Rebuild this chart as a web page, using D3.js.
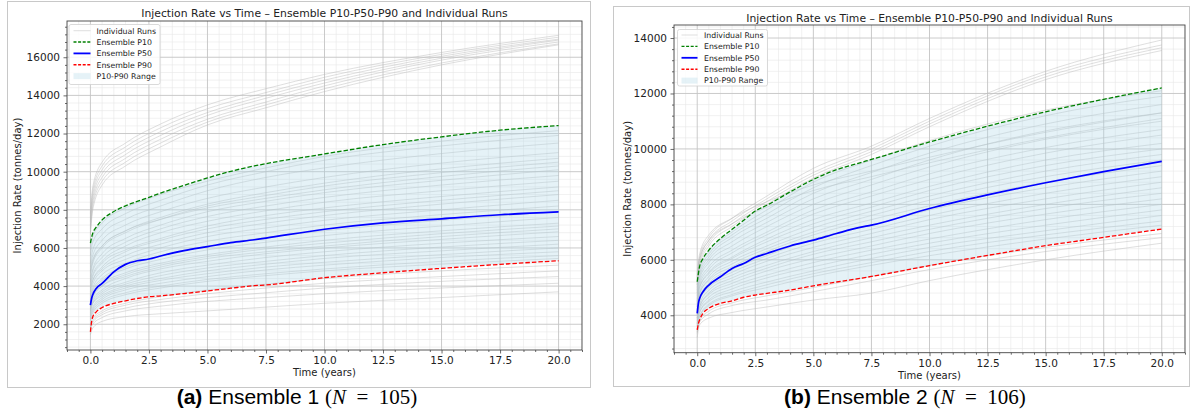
<!DOCTYPE html>
<html>
<head>
<meta charset="utf-8">
<script src="https://cdn.jsdelivr.net/npm/d3@7"></script>
<style>
  body { margin: 0; background: #fff; }
  svg { display: block; }
</style>
</head>
<body>
<script>
// Constants
const SVG_WIDTH = 1196;
const SVG_HEIGHT = 414;
const TITLE = "Injection Rate vs Time \u2013 Ensemble P10-P50-P90 and Individual Runs";

// Time samples (years)
const pctTimes = [0, 0.05, 0.1, 0.25, 0.5, 1, 1.5, 2, 2.5, 3, 4, 5, 6, 7, 7.5, 10, 12.5, 15, 17.5, 20];
const runTimes = [0, 0.1, 0.5, 1.5, 3, 5, 7.5, 10, 15, 20];

// Tick labels
const xTicks = [0, 2.5, 5, 7.5, 10, 12.5, 15, 17.5, 20];
const yTicksA = [2000, 4000, 6000, 8000, 10000, 12000, 14000, 16000];
const yTicksB = [4000, 6000, 8000, 10000, 12000, 14000];

// Ensemble 1 percentiles (tonnes/day)
const p10A = [6250, 6550, 6770, 7090, 7470, 7910, 8210, 8440, 8650, 8880, 9280, 9670, 10020, 10300, 10420, 10930, 11420, 11825, 12175, 12420];
const p50A = [3000, 3350, 3550, 3880, 4140, 4750, 5140, 5330, 5420, 5580, 5860, 6070, 6280, 6430, 6520, 6980, 7320, 7530, 7740, 7890];
const p90A = [1600, 2120, 2390, 2650, 2880, 3090, 3230, 3350, 3440, 3490, 3610, 3750, 3890, 4020, 4060, 4440, 4700, 4930, 5140, 5330];

// Ensemble 1 individual runs (sampled at runTimes)
const runsA = [
  [7800, 9200, 10500, 11500, 12500, 13500, 14350, 15100, 16250, 17150],
  [7600, 9000, 10300, 11300, 12300, 13300, 14150, 14950, 16150, 17050],
  [7400, 8800, 10100, 11100, 12100, 13100, 14000, 14800, 16050, 16950],
  [7200, 8600, 9900, 10900, 11900, 12950, 13850, 14650, 15950, 16900],
  [7000, 8400, 9700, 10700, 11700, 12750, 13650, 14500, 15850, 16800],
  [6800, 8200, 9500, 10500, 11500, 12600, 13500, 14350, 15700, 16700],
  [6700, 8000, 9300, 10300, 11300, 12450, 13350, 14200, 15600, 16650],
  [5900, 6600, 7300, 8100, 8800, 9500, 10200, 10800, 11600, 12150],
  [5600, 6300, 7000, 7800, 8500, 9300, 10000, 10600, 11350, 11900],
  [5200, 5900, 6700, 7500, 8200, 9000, 9700, 10200, 10950, 11500],
  [5000, 5600, 6400, 7200, 7900, 8600, 9200, 9700, 10450, 11000],
  [4700, 5300, 6100, 6900, 7600, 8300, 8900, 9400, 10150, 10700],
  [4500, 5200, 6000, 6800, 7500, 8200, 8750, 9250, 9950, 10500],
  [4800, 5400, 6100, 6900, 7500, 8100, 8600, 9050, 9750, 10300],
  [4300, 4900, 5700, 6500, 7200, 7900, 8450, 8900, 9550, 10100],
  [4200, 4800, 5500, 6300, 7000, 7650, 8200, 8650, 9300, 9800],
  [4000, 4600, 5300, 6100, 6800, 7400, 7950, 8400, 9000, 9500],
  [3900, 4500, 5200, 5900, 6500, 7150, 7700, 8100, 8700, 9200],
  [3700, 4300, 5000, 5800, 6400, 7000, 7500, 7900, 8500, 9000],
  [3800, 4300, 4900, 5600, 6200, 6800, 7300, 7700, 8300, 8800],
  [3500, 4100, 4800, 5400, 6000, 6600, 7050, 7450, 8000, 8500],
  [3400, 3900, 4600, 5200, 5800, 6350, 6800, 7200, 7750, 8200],
  [3300, 3800, 4400, 5000, 5600, 6100, 6550, 6900, 7450, 7900],
  [3200, 3700, 4300, 4900, 5400, 5900, 6300, 6650, 7150, 7600],
  [3000, 3500, 4100, 4700, 5200, 5650, 6050, 6400, 6900, 7300],
  [2900, 3400, 4000, 4600, 5100, 5550, 5950, 6250, 6750, 7150],
  [3100, 3500, 4000, 4500, 5000, 5450, 5800, 6100, 6600, 7000],
  [2800, 3300, 3800, 4400, 4900, 5300, 5700, 6000, 6450, 6850],
  [2700, 3200, 3700, 4200, 4700, 5100, 5500, 5800, 6250, 6600],
  [2600, 3100, 3600, 4100, 4550, 4950, 5300, 5600, 6050, 6400],
  [2700, 3100, 3500, 4000, 4400, 4800, 5150, 5450, 5850, 6200],
  [2500, 2900, 3400, 3900, 4300, 4650, 5000, 5250, 5650, 6000],
  [2400, 2800, 3300, 3800, 4150, 4500, 4850, 5100, 5500, 5800],
  [2300, 2700, 3200, 3650, 4000, 4350, 4650, 4900, 5300, 5600],
  [2200, 2600, 3100, 3550, 3900, 4250, 4550, 4800, 5150, 5450],
  [2000, 2300, 2700, 3100, 3450, 3800, 4100, 4400, 4800, 5100],
  [1900, 2200, 2600, 3000, 3300, 3600, 3900, 4150, 4500, 4800],
  [1800, 2100, 2500, 2850, 3150, 3400, 3650, 3900, 4250, 4500],
  [1700, 2000, 2350, 2700, 2950, 3200, 3400, 3600, 3900, 4150],
  [1450, 1800, 2150, 2400, 2550, 2700, 2900, 3100, 3400, 3700]
];

// Ensemble 2 percentiles (tonnes/day)
const p10B = [5210, 5500, 5750, 6050, 6350, 6770, 7100, 7430, 7760, 7970, 8450, 8900, 9250, 9500, 9620, 10250, 10820, 11340, 11790, 12200];
const p50B = [4070, 4430, 4600, 4850, 5090, 5390, 5690, 5870, 6090, 6230, 6500, 6710, 6950, 7170, 7250, 7850, 8340, 8780, 9180, 9550];
const p90B = [3470, 3700, 3830, 4070, 4250, 4430, 4520, 4650, 4730, 4790, 4910, 5060, 5200, 5330, 5400, 5790, 6160, 6510, 6810, 7110];

// Ensemble 2 individual runs (sampled at runTimes)
const runsB = [
  [5400, 6100, 6800, 7500, 8300, 9300, 10100, 11100, 12800, 13930],
  [5300, 6000, 6700, 7400, 8200, 9150, 10000, 11000, 12700, 13750],
  [5200, 5900, 6600, 7300, 8100, 9050, 9900, 10900, 12600, 13650],
  [5100, 5800, 6500, 7200, 8000, 8950, 9800, 10800, 12500, 13550],
  [5500, 6200, 6900, 7500, 8100, 8700, 9200, 9700, 10600, 11300],
  [5300, 6000, 6700, 7300, 7900, 8500, 9000, 9500, 10400, 11100],
  [5100, 5700, 6300, 7000, 7800, 8800, 9600, 10300, 11400, 12100],
  [5000, 5600, 6200, 6900, 7650, 8600, 9400, 10100, 11200, 11900],
  [4900, 5500, 6100, 6800, 7500, 8400, 9150, 9850, 10900, 11600],
  [4800, 5400, 6000, 6650, 7350, 8200, 8900, 9600, 10650, 11300],
  [4700, 5300, 5900, 6500, 7200, 8000, 8700, 9350, 10350, 11000],
  [4600, 5200, 5750, 6350, 7000, 7800, 8450, 9100, 10050, 10700],
  [4500, 5100, 5650, 6250, 6900, 7650, 8300, 8900, 9850, 10500],
  [4400, 5000, 5550, 6100, 6750, 7450, 8050, 8650, 9600, 10200],
  [4500, 5000, 5500, 6050, 6650, 7300, 7900, 8500, 9400, 10000],
  [4300, 4850, 5400, 5950, 6500, 7150, 7750, 8300, 9200, 9800],
  [4200, 4750, 5300, 5850, 6400, 7000, 7600, 8150, 9000, 9600],
  [4300, 4800, 5250, 5750, 6300, 6900, 7450, 7950, 8800, 9400],
  [4100, 4650, 5150, 5650, 6150, 6750, 7250, 7800, 8600, 9200],
  [4000, 4550, 5050, 5550, 6050, 6600, 7100, 7600, 8400, 9000],
  [4100, 4550, 5000, 5450, 5950, 6450, 6950, 7450, 8200, 8800],
  [3900, 4400, 4900, 5350, 5800, 6300, 6800, 7250, 8000, 8600],
  [3800, 4300, 4800, 5250, 5700, 6200, 6650, 7100, 7850, 8400],
  [3900, 4300, 4750, 5150, 5600, 6050, 6500, 6950, 7650, 8200],
  [3700, 4200, 4650, 5050, 5450, 5900, 6350, 6750, 7450, 8000],
  [3600, 4100, 4550, 4950, 5350, 5750, 6200, 6600, 7250, 7800],
  [3700, 4100, 4500, 4850, 5200, 5600, 6050, 6450, 7050, 7600],
  [3500, 3950, 4400, 4750, 5100, 5500, 5900, 6300, 6900, 7400],
  [3500, 3950, 4350, 4700, 5000, 5400, 5800, 6150, 6750, 7250],
  [3400, 3800, 4150, 4450, 4700, 5000, 5400, 5800, 6450, 6950],
  [3350, 3750, 4050, 4350, 4550, 4850, 5250, 5650, 6300, 6800],
  [3200, 3650, 3900, 4100, 4300, 4550, 4800, 5250, 6000, 6600]
];

// Create SVG container
const svg = d3.select("body")
  .append("svg")
  .attr("width", SVG_WIDTH)
  .attr("height", SVG_HEIGHT)
  .style("font-family", "DejaVu Sans, sans-serif");

svg.append("rect")
  .attr("width", SVG_WIDTH)
  .attr("height", SVG_HEIGHT)
  .attr("fill", "#fff");

const panels = [
  {
    id: "a", label: "(a)", name: " Ensemble 1 ", n: "105",
    box: { x: 7.5, y: 1.5, w: 583, h: 386 },
    plot: { left: 67, top: 21, right: 582, bottom: 350 },
    yDomain: [650, 17900], yTicks: yTicksA,
    p10: p10A, p50: p50A, p90: p90A, runs: runsA,
    titleY: 16.5, xLabelY: 376, yLabelX: 21,
    legend: { x: 69, y: 24.5, w: 91, h: 60, row0: 30.7, dy: 11.35, h0: 73.5, h1: 90.5, tx: 96.5 },
    captionX: 297, captionY: 404
  },
  {
    id: "b", label: "(b)", name: " Ensemble 2 ", n: "106",
    box: { x: 613.5, y: 6.5, w: 576, h: 380 },
    plot: { left: 674, top: 25, right: 1185, bottom: 352.7 },
    yDomain: [2650, 14470], yTicks: yTicksB,
    p10: p10B, p50: p50B, p90: p90B, runs: runsB,
    titleY: 21.5, xLabelY: 379, yLabelX: 631,
    legend: { x: 677.5, y: 29.5, w: 90, h: 56.5, row0: 35, dy: 11.4, h0: 681.5, h1: 697.5, tx: 704 },
    captionX: 905, captionY: 404
  }
];

panels.forEach(drawPanel);

function drawPanel(p) {
  // Outer frame of the subfigure
  svg.append("rect")
    .attr("x", p.box.x).attr("y", p.box.y)
    .attr("width", p.box.w).attr("height", p.box.h)
    .attr("fill", "none")
    .attr("stroke", "#c8c8c8")
    .attr("stroke-width", 1);

  const pl = p.plot;
  const x = d3.scaleLinear().domain([-1, 21]).range([pl.left, pl.right]);
  const y = d3.scaleLinear().domain(p.yDomain).range([pl.bottom, pl.top]);

  const g = svg.append("g");

  // clip
  svg.append("clipPath").attr("id", "clip-" + p.id)
    .append("rect")
    .attr("x", pl.left).attr("y", pl.top)
    .attr("width", pl.right - pl.left).attr("height", pl.bottom - pl.top);

  const xMinor = d3.range(-1, 21.001, 0.5).filter(v => !xTicks.includes(v));
  const yMinor = d3.range(Math.ceil(p.yDomain[0] / 400) * 400, p.yDomain[1], 400)
    .filter(v => v % 2000 !== 0);

  // Minor grid
  const grid = g.append("g").attr("clip-path", `url(#clip-${p.id})`);
  grid.selectAll(".vminor").data(xMinor).enter().append("line")
    .attr("x1", d => x(d)).attr("x2", d => x(d))
    .attr("y1", pl.top).attr("y2", pl.bottom)
    .attr("stroke", "#e8e8e8").attr("stroke-width", 0.6);
  grid.selectAll(".hminor").data(yMinor).enter().append("line")
    .attr("x1", pl.left).attr("x2", pl.right)
    .attr("y1", d => y(d)).attr("y2", d => y(d))
    .attr("stroke", "#e8e8e8").attr("stroke-width", 0.6);

  // Major grid
  grid.selectAll(".vmajor").data(xTicks).enter().append("line")
    .attr("x1", d => x(d)).attr("x2", d => x(d))
    .attr("y1", pl.top).attr("y2", pl.bottom)
    .attr("stroke", "#c4c4c4").attr("stroke-width", 0.9);
  grid.selectAll(".hmajor").data(p.yTicks).enter().append("line")
    .attr("x1", pl.left).attr("x2", pl.right)
    .attr("y1", d => y(d)).attr("y2", d => y(d))
    .attr("stroke", "#c4c4c4").attr("stroke-width", 0.9);

  const data = g.append("g").attr("clip-path", `url(#clip-${p.id})`);

  // Individual runs
  const runLine = d3.line()
    .x((d, i) => x(runTimes[i]))
    .y(d => y(d))
    .curve(d3.curveMonotoneX);

  data.selectAll(".run").data(p.runs).enter().append("path")
    .attr("d", runLine)
    .attr("fill", "none")
    .attr("stroke", "#b8b8b8")
    .attr("stroke-opacity", 0.45)
    .attr("stroke-width", 1);

  // P10-P90 band
  const band = d3.area()
    .x((d, i) => x(pctTimes[i]))
    .y0((d, i) => y(p.p90[i]))
    .y1(d => y(d))
    .curve(d3.curveMonotoneX);

  data.append("path")
    .datum(p.p10)
    .attr("d", band)
    .attr("fill", "#add8e6")
    .attr("fill-opacity", 0.32);

  const pctLine = d3.line()
    .x((d, i) => x(pctTimes[i]))
    .y(d => y(d))
    .curve(d3.curveMonotoneX);

  const series = [
    { vals: p.p90, color: "#ff0000", dash: "4.5,2", width: 1.3 },
    { vals: p.p10, color: "#008000", dash: "4.5,2", width: 1.3 },
    { vals: p.p50, color: "#0000ff", dash: null, width: 1.7 }
  ];
  series.forEach(s => {
    data.append("path")
      .datum(s.vals)
      .attr("d", pctLine)
      .attr("fill", "none")
      .attr("stroke", s.color)
      .attr("stroke-width", s.width)
      .attr("stroke-dasharray", s.dash);
  });

  // Axes
  const xAxis = d3.axisBottom(x).tickValues(xTicks)
    .tickFormat(d3.format(".1f")).tickSize(3.5).tickPadding(3.5);
  const xAxisMinor = d3.axisBottom(x).tickValues(xMinor).tickFormat("").tickSize(2);
  const yAxis = d3.axisLeft(y).tickValues(p.yTicks)
    .tickFormat(d3.format("d")).tickSize(3.5).tickPadding(3.5);
  const yAxisMinor = d3.axisLeft(y).tickValues(yMinor).tickFormat("").tickSize(2);

  const axes = [
    [xAxisMinor, `translate(0,${pl.bottom})`],
    [yAxisMinor, `translate(${pl.left},0)`],
    [xAxis, `translate(0,${pl.bottom})`],
    [yAxis, `translate(${pl.left},0)`]
  ];
  axes.forEach(([ax, tr]) => {
    const a = g.append("g").attr("transform", tr).call(ax);
    a.select(".domain").remove();
    a.selectAll("line").attr("stroke", "#444").attr("stroke-width", 0.8);
    a.selectAll("text")
      .attr("fill", "#222")
      .style("font-size", "10.5px")
      .style("font-family", "DejaVu Sans, sans-serif");
  });

  // Spines
  g.append("rect")
    .attr("x", pl.left).attr("y", pl.top)
    .attr("width", pl.right - pl.left).attr("height", pl.bottom - pl.top)
    .attr("fill", "none")
    .attr("stroke", "#444")
    .attr("stroke-width", 0.9);

  const cx = (pl.left + pl.right) / 2;
  const cy = (pl.top + pl.bottom) / 2;

  // Title
  g.append("text")
    .attr("x", cx).attr("y", p.titleY)
    .attr("text-anchor", "middle")
    .attr("fill", "#222")
    .style("font-size", "10.8px")
    .text(TITLE);

  // Axis labels
  g.append("text")
    .attr("x", cx).attr("y", p.xLabelY)
    .attr("text-anchor", "middle")
    .attr("fill", "#222")
    .style("font-size", "10px")
    .text("Time (years)");

  g.append("text")
    .attr("transform", `translate(${p.yLabelX},${cy}) rotate(-90)`)
    .attr("text-anchor", "middle")
    .attr("fill", "#222")
    .style("font-size", "10px")
    .text("Injection Rate (tonnes/day)");

  // Legend
  const lg = p.legend;
  const leg = g.append("g");
  leg.append("rect")
    .attr("x", lg.x).attr("y", lg.y)
    .attr("width", lg.w).attr("height", lg.h)
    .attr("rx", 2)
    .attr("fill", "#fff").attr("fill-opacity", 0.85)
    .attr("stroke", "#d0d0d0").attr("stroke-width", 0.8);

  const entries = [
    { text: "Individual Runs", type: "line", color: "#b8b8b8", opacity: 0.45, width: 1, dash: null },
    { text: "Ensemble P10", type: "line", color: "#008000", opacity: 1, width: 1.4, dash: "3,1.6" },
    { text: "Ensemble P50", type: "line", color: "#0000ff", opacity: 1, width: 1.8, dash: null },
    { text: "Ensemble P90", type: "line", color: "#ff0000", opacity: 1, width: 1.4, dash: "3,1.6" },
    { text: "P10-P90 Range", type: "patch" }
  ];
  entries.forEach((e, i) => {
    const ey = lg.row0 + i * lg.dy;
    if (e.type === "line") {
      leg.append("line")
        .attr("x1", lg.h0).attr("x2", lg.h1)
        .attr("y1", ey).attr("y2", ey)
        .attr("stroke", e.color)
        .attr("stroke-opacity", e.opacity)
        .attr("stroke-width", e.width)
        .attr("stroke-dasharray", e.dash);
    } else {
      leg.append("rect")
        .attr("x", lg.h0).attr("y", ey - 3)
        .attr("width", lg.h1 - lg.h0).attr("height", 6)
        .attr("fill", "#add8e6").attr("fill-opacity", 0.32);
    }
    leg.append("text")
      .attr("x", lg.tx).attr("y", ey + 2.8)
      .attr("fill", "#222")
      .style("font-size", "7.8px")
      .text(e.text);
  });

  // Caption
  const cap = svg.append("text")
    .attr("x", p.captionX).attr("y", p.captionY)
    .attr("text-anchor", "middle")
    .attr("fill", "#000")
    .style("font-size", "21px")
    .style("font-family", "Liberation Sans, Arial, sans-serif");
  cap.append("tspan").style("font-weight", "bold").text(p.label);
  cap.append("tspan").text(p.name);
  cap.append("tspan").style("font-family", "Liberation Serif, serif").text("(");
  cap.append("tspan").style("font-family", "Liberation Serif, serif")
    .style("font-style", "italic").text("N");
  cap.append("tspan").style("font-family", "Liberation Serif, serif")
    .text("\u2002=\u2002" + p.n + ")");
}
</script>
</body>
</html>
